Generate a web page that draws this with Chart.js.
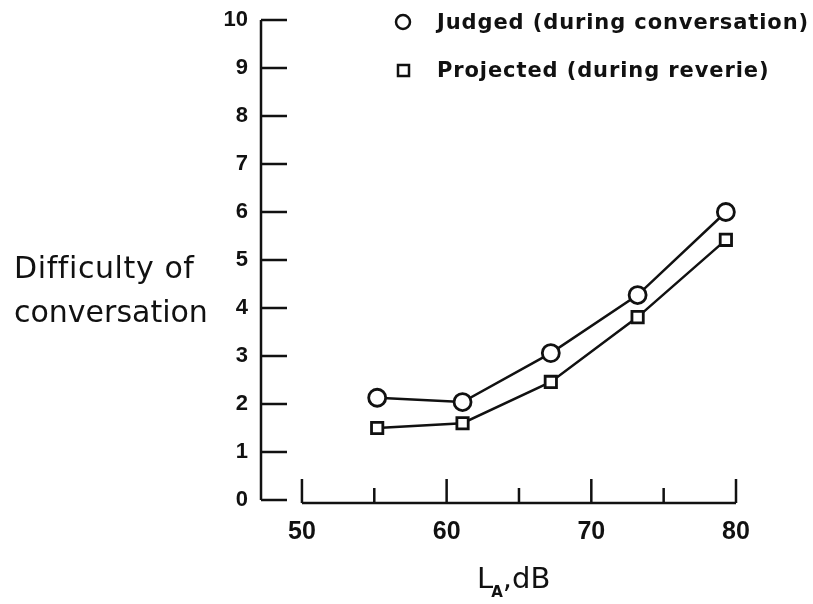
<!DOCTYPE html>
<html>
<head>
<meta charset="utf-8">
<script src="https://cdn.jsdelivr.net/npm/chart.js@4/dist/chart.umd.min.js"></script>
<style>
  html, body { margin: 0; padding: 0; background: #fff; }
  #wrap { width: 813px; height: 604px; }
</style>
</head>
<body>
<div id="wrap"><canvas id="chart" width="813" height="604"></canvas></div>
<script>
// Données
var niveauxDb = [55.2, 61.1, 67.2, 73.2, 79.3];
var jugee = [2.13, 2.04, 3.06, 4.27, 6.0];
var projetee = [1.5, 1.6, 2.46, 3.81, 5.42];
var ticksX = [50, 60, 70, 80];
var ticksXMineurs = [55, 65, 75];
var ticksY = [0, 1, 2, 3, 4, 5, 6, 7, 8, 9, 10];
var legendes = ['Judged (during conversation)', 'Projected (during reverie)'];

var encre = '#111';
var police = 'DejaVu Sans';
var policeTicks = 'Liberation Sans';

function points(xs, ys) {
    return xs.map(function(x, i) { return { x: x, y: ys[i] }; });
}

// Axes dessinés à la main (ticks vers l'intérieur), légende et titres
var axesPlugin = {
    id: 'axesMain',
    afterDraw: function(chart) {
        var ctx = chart.ctx;
        var area = chart.chartArea;
        var sx = chart.scales.x;
        var sy = chart.scales.y;
        ctx.save();
        ctx.strokeStyle = encre;
        ctx.lineWidth = 2.5;
        ctx.lineCap = 'butt';

        // axe Y
        ctx.beginPath();
        ctx.moveTo(area.left, sy.getPixelForValue(10));
        ctx.lineTo(area.left, sy.getPixelForValue(0));
        ticksY.forEach(function(v) {
            var y = sy.getPixelForValue(v);
            ctx.moveTo(area.left, y);
            ctx.lineTo(area.left + 26, y);
        });
        ctx.stroke();

        // axe X (décalé)
        var yAxe = area.bottom + 3;
        ctx.beginPath();
        ctx.moveTo(sx.getPixelForValue(50), yAxe);
        ctx.lineTo(sx.getPixelForValue(80), yAxe);
        ticksX.forEach(function(v) {
            var x = sx.getPixelForValue(v);
            ctx.moveTo(x, yAxe);
            ctx.lineTo(x, yAxe - 24);
        });
        ticksXMineurs.forEach(function(v) {
            var x = sx.getPixelForValue(v);
            ctx.moveTo(x, yAxe);
            ctx.lineTo(x, yAxe - 15);
        });
        ctx.stroke();

        // titre Y horizontal
        ctx.fillStyle = encre;
        ctx.font = '30px "' + police + '"';
        ctx.textAlign = 'left';
        ctx.textBaseline = 'alphabetic';
        ctx.letterSpacing = '0.6px';
        ctx.fillText('Difficulty of', 14, 278);
        ctx.letterSpacing = '0px';
        ctx.fillText('conversation', 14, 322);

        // titre X avec indice
        ctx.font = '29px "' + police + '"';
        var x0 = 477;
        ctx.fillText('L', x0, 588);
        var wL = ctx.measureText('L').width;
        ctx.font = 'bold 15px "' + police + '"';
        ctx.fillText('A', x0 + wL - 2, 597);
        var wA = ctx.measureText('A').width;
        ctx.font = '29px "' + police + '"';
        ctx.fillText(',dB', x0 + wL + wA - 2, 588);

        // légende
        ctx.font = 'bold 21px "' + police + '"';
        ctx.letterSpacing = '0.9px';
        ctx.lineWidth = 2.5;
        ctx.fillStyle = '#fff';
        ctx.beginPath();
        ctx.arc(403, 22, 7, 0, Math.PI * 2);
        ctx.fill();
        ctx.stroke();
        ctx.beginPath();
        ctx.rect(398, 65, 11, 11);
        ctx.fill();
        ctx.stroke();
        ctx.fillStyle = encre;
        ctx.fillText(legendes[0], 437, 29);
        ctx.fillText(legendes[1], 437, 77);
        ctx.restore();
    }
};

var ctx = document.getElementById('chart').getContext('2d');
var graphique = new Chart(ctx, {
    type: 'line',
    data: {
        datasets: [{
            label: legendes[0],
            data: points(niveauxDb, jugee),
            borderColor: encre,
            borderWidth: 2.5,
            pointStyle: 'circle',
            pointRadius: 8.5,
            pointBorderWidth: 2.8,
            pointBackgroundColor: '#fff',
            pointBorderColor: encre,
            tension: 0
        }, {
            label: legendes[1],
            data: points(niveauxDb, projetee),
            borderColor: encre,
            borderWidth: 2.5,
            pointStyle: 'rect',
            pointRadius: 8,
            pointBorderWidth: 2.8,
            pointBackgroundColor: '#fff',
            pointBorderColor: encre,
            tension: 0
        }]
    },
    options: {
        responsive: false,
        animation: false,
        layout: { padding: { left: 211, right: 77, top: 20, bottom: 0 } },
        plugins: {
            legend: { display: false },
            tooltip: { enabled: false }
        },
        scales: {
            x: {
                type: 'linear',
                min: 47.17,
                max: 80,
                border: { display: false },
                grid: { display: false },
                afterBuildTicks: function(scale) {
                    scale.ticks = ticksX.map(function(v) { return { value: v }; });
                },
                afterFit: function(scale) { scale.height = 104; },
                ticks: {
                    color: encre,
                    padding: 9,
                    maxRotation: 0,
                    font: { family: policeTicks, size: 25, weight: 'bold' }
                }
            },
            y: {
                min: 0,
                max: 10,
                border: { display: false },
                grid: { display: false },
                afterBuildTicks: function(scale) {
                    scale.ticks = ticksY.map(function(v) { return { value: v }; });
                },
                afterFit: function(scale) { scale.width = 50; },
                ticks: {
                    color: encre,
                    padding: 5,
                    font: { family: policeTicks, size: 22, weight: 'bold' }
                }
            }
        }
    },
    plugins: [axesPlugin]
});
</script>
</body>
</html>
